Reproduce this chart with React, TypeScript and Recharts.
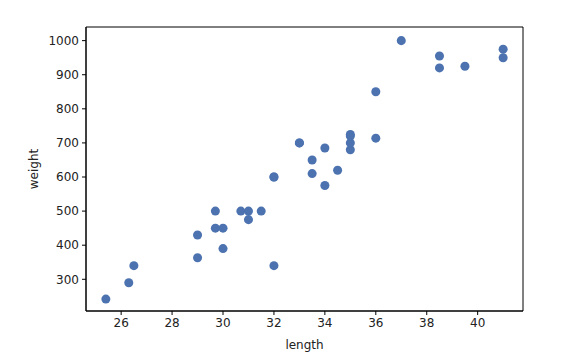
import React from "react";
import { ScatterChart, Scatter, XAxis, YAxis, ZAxis, ReferenceArea } from "recharts";

const lengths = [25.4, 26.3, 26.5, 29.0, 29.0, 29.7, 29.7, 30.0, 30.0, 30.7, 31.0, 31.0, 31.5, 32.0, 32.0, 32.0, 33.0, 33.0, 33.5, 33.5, 34.0, 34.0, 34.5, 35.0, 35.0, 35.0, 35.0, 36.0, 36.0, 37.0, 38.5, 38.5, 39.5, 41.0, 41.0];
const weights = [242, 290, 340, 363, 430, 450, 500, 390, 450, 500, 475, 500, 500, 340, 600, 600, 700, 700, 610, 650, 575, 685, 620, 680, 700, 725, 720, 714, 850, 1000, 920, 955, 925, 975, 950];
const xTicks = [26, 28, 30, 32, 34, 36, 38, 40];
const yTicks = [300, 400, 500, 600, 700, 800, 900, 1000];

const data = lengths.map((l, i) => ({ length: l, weight: weights[i] }));
const xMin = 24.62, xMax = 41.78, yMin = 207, yMax = 1040;

const tickStyle = { fill: "#222", fontSize: 12, fontFamily: "DejaVu Sans" };

export default function App() {
  return (
    <div style={{ position: "absolute", left: 0, top: 0, background: "#fff" }}>
      <ScatterChart width={588} height={361} margin={{ top: 27, right: 65, bottom: 20, left: 26 }}>
        <XAxis
          type="number"
          dataKey="length"
          domain={[xMin, xMax]}
          ticks={xTicks}
          allowDataOverflow
          tick={tickStyle}
          tickSize={4}
          tickMargin={3}
          height={30}
          stroke="#000"
          tickLine={{ stroke: "#000" }}
          label={{ value: "length", position: "insideBottom", offset: -8, style: { fill: "#222", fontSize: 12, fontFamily: "DejaVu Sans" } }}
        />
        <YAxis
          type="number"
          dataKey="weight"
          domain={[yMin, yMax]}
          ticks={yTicks}
          allowDataOverflow
          tick={tickStyle}
          tickSize={4}
          tickMargin={3}
          width={60}
          stroke="#000"
          tickLine={{ stroke: "#000" }}
          label={{ value: "weight", angle: -90, position: "insideLeft", offset: 0, dx: 8, style: { fill: "#222", fontSize: 12, fontFamily: "DejaVu Sans", textAnchor: "middle" } }}
        />
        <ZAxis range={[64, 64]} />
        <ReferenceArea x1={xMin} x2={xMax} y1={yMin} y2={yMax} fill="none" stroke="#000" strokeWidth={1} ifOverflow="visible" />
        <Scatter data={data} fill="#4c72b0" isAnimationActive={false} />
      </ScatterChart>
    </div>
  );
}
